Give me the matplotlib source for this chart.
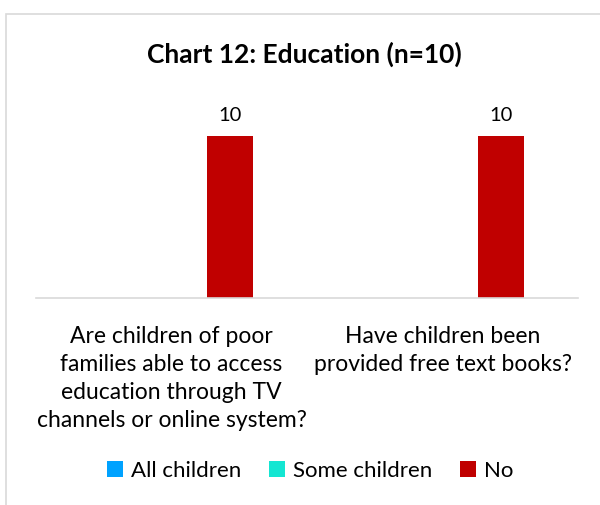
import matplotlib.pyplot as plt
import numpy as np
from matplotlib.patches import Rectangle

categories = ['Are children of poor\nfamilies able to access\neducation through TV\nchannels or online system?',
              'Have children been\nprovided free text books?']
series = ['All children', 'Some children', 'No']
all_children = [0, 0]
some_children = [0, 0]
no_children = [10, 10]
colors = ['#00A2FF', '#14E6D2', '#C00000']

plt.rcParams['font.family'] = ['Lato', 'DejaVu Sans']

fig = plt.figure(figsize=(6, 5.05), dpi=100)
fig.patches.append(Rectangle((6 / 600, -0.01), 1.0, 1 - 14 / 505 + 0.01, transform=fig.transFigure,
                             fill=False, edgecolor='#D9D9D9', linewidth=1.2))

ax = fig.add_axes([36 / 600, 1 - 298 / 505, 542 / 600, 198 / 505])
x = np.arange(len(categories))
w = 46 / 271
values = [all_children, some_children, no_children]
for i, (name, vals, c) in enumerate(zip(series, values, colors)):
    bars = ax.bar(x + (i - 1) * 58.5 / 271, vals, width=w, color=c, label=name)
    for b, v in zip(bars, vals):
        if v > 0:
            ax.text(b.get_x() + b.get_width() / 2, v + 0.7, str(v), ha='center', va='bottom', fontsize=14.5)

ax.set_xlim(-0.5, 1.5)
ax.set_ylim(0, 12.2)
ax.set_yticks([])
ax.set_xticks(x)
ax.set_xticklabels(categories, fontsize=16.5, linespacing=1.42)
ax.tick_params(axis='x', length=0, pad=20)
for s in ['top', 'right', 'left']:
    ax.spines[s].set_visible(False)
ax.spines['bottom'].set_color('#D9D9D9')
ax.spines['bottom'].set_linewidth(1.2)

fig.text(304 / 600, 1 - 54 / 505, 'Chart 12: Education (n=10)', ha='center', va='center',
         fontsize=19, fontweight='bold')

fig.legend(loc='center', bbox_to_anchor=(310 / 600, 1 - 471 / 505), ncol=3, frameon=False,
           fontsize=16, handlelength=0.72, handleheight=0.72, handletextpad=0.35, columnspacing=1.25)

fig.savefig('out.png', dpi=100)
